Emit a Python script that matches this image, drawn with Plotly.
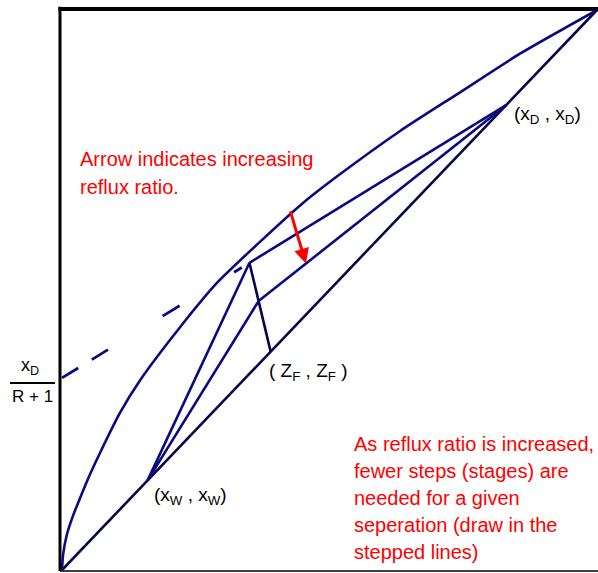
import plotly.graph_objects as go

# Vapour-liquid equilibrium curve (liquid x, vapour y)
eq_x = [0.0, 0.002, 0.009, 0.021, 0.034, 0.052, 0.071, 0.108, 0.146, 0.221,
        0.290, 0.370, 0.450, 0.520, 0.632, 0.744, 0.856, 1.0]
eq_y = [0.0, 0.027, 0.063, 0.098, 0.129, 0.170, 0.209, 0.280, 0.339, 0.434,
        0.513, 0.586, 0.655, 0.707, 0.784, 0.853, 0.922, 1.0]

# Column specification
x_D = 0.83      # distillate composition
x_W = 0.16      # bottoms composition
z_F = 0.39      # feed composition
q = 0.8         # feed quality
reflux = [1.42, 3.1]   # lower and higher reflux ratio

# Arrow between the two rectifying lines
arrow_tail = (0.426, 0.643)
arrow_head_x = 0.456

# Text
note_top = ["Arrow indicates increasing", "reflux ratio."]
note_bottom = ["As reflux ratio is increased,", "fewer steps (stages) are",
               "needed for a given", "seperation (draw in the",
               "stepped lines)"]

NAVY = "#0a0a80"
DARK = "#06064a"
RED = "#ff0000"
FONT = "Liberation Sans, Arial, sans-serif"

m_q = q / (q - 1.0)


def rect_line(R):
    return R / (R + 1.0), x_D / (R + 1.0)


def q_point(R):
    s, b = rect_line(R)
    x = (z_F * (1.0 - m_q) - b) / (s - m_q)
    return x, b + s * x


fig = go.Figure()

# 45-degree line
fig.add_trace(go.Scatter(x=[0, 1], y=[0, 1], mode="lines",
                         line=dict(color=DARK, width=2.6)))

# equilibrium curve
fig.add_trace(go.Scatter(x=eq_x, y=eq_y, mode="lines",
                         line=dict(color=NAVY, width=2.6, shape="spline",
                                   smoothing=0.6)))

# operating lines for each reflux ratio
for R in reflux:
    xi, yi = q_point(R)
    fig.add_trace(go.Scatter(x=[xi, x_D], y=[yi, x_D], mode="lines",
                             line=dict(color=NAVY, width=2.6)))
    fig.add_trace(go.Scatter(x=[x_W, xi], y=[x_W, yi], mode="lines",
                             line=dict(color=NAVY, width=2.6)))

# q-line from the feed point to the upper intersection
x1, y1 = q_point(reflux[0])
fig.add_trace(go.Scatter(x=[z_F, x1], y=[z_F, y1], mode="lines",
                         line=dict(color=DARK, width=2.6)))

# dashed extension of the low-reflux rectifying line to the y-axis
s1, b1 = rect_line(reflux[0])
fig.add_trace(go.Scatter(x=[0, x1], y=[b1, y1], mode="lines",
                         line=dict(color=NAVY, width=2.8,
                                   dash="19px,16px,19px,64px,20px,64px,9px,40px")))

s2, b2 = rect_line(reflux[1])
fig.add_annotation(x=arrow_head_x, y=b2 + s2 * arrow_head_x,
                   ax=arrow_tail[0], ay=arrow_tail[1], axref="x", ayref="y",
                   xref="x", yref="y", text="", showarrow=True,
                   arrowhead=2, arrowsize=1, arrowwidth=3, arrowcolor=RED,
                   standoff=0)

# point labels
labels = [
    (0.841, 0.8125, "(x<sub>D</sub> , x<sub>D</sub>)"),
    (0.383, 0.354, "( Z<sub>F</sub> , Z<sub>F</sub> )"),
    (0.168, 0.132, "(x<sub>W</sub> , x<sub>W</sub>)"),
]
for lx, ly, txt in labels:
    fig.add_annotation(x=lx, y=ly, xref="x", yref="y", text=txt,
                       showarrow=False, xanchor="left", yanchor="middle",
                       font=dict(family=FONT, size=19, color="black"))

# y-intercept label x_D/(R+1), set in the left margin
fig.add_annotation(x=-0.0558, y=0.364, xref="paper", yref="paper",
                   text="x<sub>D</sub>", showarrow=False, xanchor="center",
                   yanchor="middle", font=dict(family=FONT, size=18, color="black"))
fig.add_annotation(x=-0.051, y=0.310, xref="paper", yref="paper", text="R + 1",
                   showarrow=False, xanchor="center", yanchor="middle",
                   font=dict(family=FONT, size=17, color="black"))
fig.add_shape(type="line", xref="paper", yref="paper",
              x0=-0.093, x1=-0.0093, y0=0.3345, y1=0.3345,
              line=dict(color="black", width=2))

# red notes
for i, line in enumerate(note_top):
    fig.add_annotation(x=0.030, y=0.734 - i * 0.050, xref="x", yref="y",
                       text=line, showarrow=False, xanchor="left",
                       yanchor="middle",
                       font=dict(family=FONT, size=20, color=RED))
for i, line in enumerate(note_bottom):
    fig.add_annotation(x=0.542, y=0.225 - i * 0.0483, xref="x", yref="y",
                       text=line, showarrow=False, xanchor="left",
                       yanchor="middle",
                       font=dict(family=FONT, size=20, color=RED))

# frame: heavy left and top edges, thin bottom edge
fig.add_shape(type="line", xref="paper", yref="paper", x0=0, x1=0, y0=0, y1=1.004,
              line=dict(color="black", width=3))
fig.add_shape(type="line", xref="paper", yref="paper", x0=-0.003, x1=1, y0=1, y1=1,
              line=dict(color="black", width=4))
fig.add_shape(type="line", xref="paper", yref="paper", x0=0, x1=1, y0=0, y1=0,
              line=dict(color="black", width=1.5))

axis = dict(visible=False, showgrid=False, zeroline=False, fixedrange=True)
fig.update_layout(
    width=598, height=573,
    margin=dict(l=60, r=0, t=9, b=2),
    paper_bgcolor="white", plot_bgcolor="white",
    showlegend=False,
    xaxis=dict(range=[-0.00374, 1.00187], **axis),
    yaxis=dict(range=[-0.00179, 1.00179], **axis),
)

fig.write_html("out.html")
